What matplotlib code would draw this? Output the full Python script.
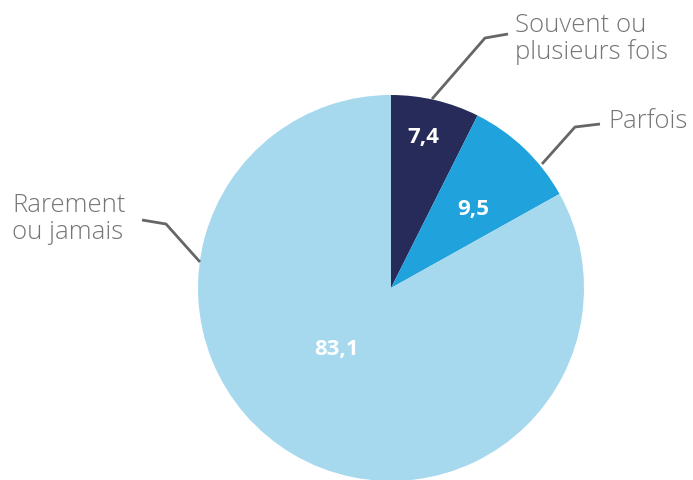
import matplotlib.pyplot as plt

# Data
labels = ["Souvent ou\nplusieurs fois", "Parfois", "Rarement\nou jamais"]
values = [7.4, 9.5, 83.1]
value_text = ["7,4", "9,5", "83,1"]
colors = ["#262b59", "#20a2dc", "#a6d8ee"]

W, H = 693, 481
fig = plt.figure(figsize=(W / 100, H / 100), dpi=100)
ax = fig.add_axes([0, 0, 1, 1])

# pie in pixel coords (y axis is flipped, so draw counterclock to go clockwise on screen)
cx, cy, r = 391, 289, 193
ax.pie(values, colors=colors, startangle=-90, counterclock=True,
       radius=r, center=(cx, cy), frame=True,
       wedgeprops=dict(linewidth=0))
ax.set_xlim(0, W)
ax.set_ylim(H, 0)
ax.set_aspect("equal")
ax.axis("off")

# value labels inside the wedges
value_pos = [(423, 138), (473, 210), (337, 350)]
for txt, (x, y) in zip(value_text, value_pos):
    ax.text(x, y, txt, color="white", fontsize=16, fontweight="bold",
            family="Open Sans", ha="center", va="center")

# leader lines and category labels
leaders = [
    [(432, 100), (485, 39), (508, 35)],
    [(542, 165), (575, 128), (600, 125)],
    [(200, 263), (166, 225), (142, 221)],
]
label_pos = [(515, 39), (608, 122), (12, 219)]
for pts, (x, y), lab in zip(leaders, label_pos, labels):
    xs, ys = zip(*pts)
    ax.plot(xs, ys, color="#666666", lw=2, solid_capstyle="butt")
    ax.text(x, y, lab, color="#757575", fontsize=18.5, fontweight="light",
            family="Open Sans", ha="left", va="center", linespacing=1.08)

fig.savefig("out.png", dpi=100)
